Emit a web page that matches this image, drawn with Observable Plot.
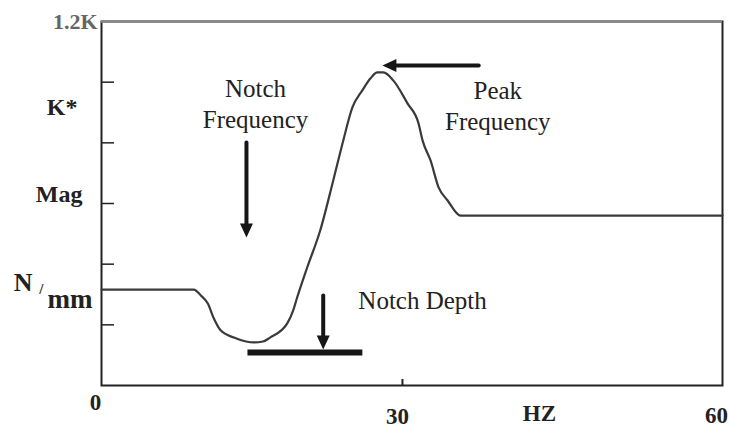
<!DOCTYPE html>
<html><head><meta charset="utf-8">
<script src="https://cdn.jsdelivr.net/npm/d3@7"></script>
<script src="https://cdn.jsdelivr.net/npm/@observablehq/plot@0.6"></script>
<style>body{margin:0;background:#fff} svg{display:block}</style>
</head><body><div id="chart"></div>
<script>
// Curve: dynamic stiffness magnitude vs frequency
const freqHz = [0, 9.2, 9.9, 10.6, 11.2, 11.9, 13.2, 14.4, 15.2, 16.1, 16.8, 18.5, 19.1, 19.5, 20.5, 21.8, 23.1, 24.1, 25.0, 26.0, 26.8, 27.5, 28.1, 29.1, 30.5, 31.6, 32.0, 32.8, 33.6, 34.5, 35.8, 61.9];
const magnitude = [316, 316, 297, 270, 221, 181, 158, 145, 142, 145, 158, 204, 247, 290, 389, 511, 676, 808, 916, 973, 1012, 1032, 1032, 1005, 930, 864, 808, 742, 653, 610, 560, 560];

// Axis ticks and labels
const yTicks = [200, 400, 600, 800, 1000];
const xTicks = [30];
const xLabelText = ["0", "30", "HZ", "60"];
const xLabelAt = [0, 30, 43.65, 60];
const yLabelText = ["1.2K", "K*", "Mag", "N", "/", "mm"];
const yLabelAt = [1200, 916, 630, 340, 316, 284];

// Annotations
const annoText = ["Notch\nFrequency", "Peak\nFrequency", "Notch Depth"];
const annoX = [15.35, 39.5, 25.6];
const annoY = [933, 926, 280];
// arrows: [x1, y1, x2(tip), y2(tip)]
const arrowX1 = [14.45, 37.6, 22.1];
const arrowY1 = [801, 1055, 297];
const arrowX2 = [14.45, 28.0, 22.1];
const arrowY2 = [488, 1055, 119];
const arrowDir = ["down", "left", "down"];
// notch depth bar
const barX = [14.55, 26.0];
const barY = 109;

const curve = freqHz.map((f, i) => ({f, m: magnitude[i]}));
const arrows = arrowX1.map((x1, i) => ({x1, y1: arrowY1[i], x2: arrowX2[i], y2: arrowY2[i], dir: arrowDir[i]}));
const annos = annoText.map((t, i) => ({t, x: annoX[i], y: annoY[i]}));

const triDown = {draw(ctx) { ctx.moveTo(0, 0); ctx.lineTo(-6.5, -14); ctx.lineTo(6.5, -14); ctx.closePath(); }};
const triLeft = {draw(ctx) { ctx.moveTo(0, 0); ctx.lineTo(14, -6.5); ctx.lineTo(14, 6.5); ctx.closePath(); }};

const serif = "'Liberation Serif', 'Times New Roman', serif";
const W = 729, H = 429;
const mL = 101, mR = 7, mT = 21, mB = 44;

const xl = xLabelText.map((t, i) => ({t, x: xLabelAt[i]}));
const xlDx = [-6, -5, 0, 13];
const xlDy = [17, 31, 28, 30];
const yl = yLabelText.map((t, i) => ({t, y: yLabelAt[i]}));
const ylDx = [-4, -24, -19, -69, -58, -9];
const ylSize = [22, 24, 24, 26, 15, 27];
const ylFill = ["#666", "#222", "#222", "#222", "#222", "#222"];

const plot = Plot.plot({
  width: W, height: H,
  marginLeft: mL, marginRight: mR, marginTop: mT, marginBottom: mB,
  x: {domain: [0, 61.9], axis: null},
  y: {domain: [0, 1200], axis: null},
  style: {fontFamily: serif, background: "#fff"},
  marks: [
    // inward tick marks
    Plot.ruleY(yTicks, {stroke: "#222", strokeWidth: 1.5, insetRight: W - mL - mR - 13}),
    Plot.ruleX(xTicks, {stroke: "#222", strokeWidth: 2, insetTop: H - mT - mB - 6}),
    // frame
    Plot.frame({stroke: "#222", strokeWidth: 2}),
    Plot.ruleY([1200], {stroke: "#888", strokeWidth: 2.5}),
    // curve
    Plot.line(curve, {x: "f", y: "m", stroke: "#3a3a3a", strokeWidth: 2.2, curve: "monotone-x"}),
    // notch depth bar
    Plot.link([{x1: barX[0], x2: barX[1], y: barY}], {x1: "x1", x2: "x2", y1: "y", y2: "y", stroke: "#161616", strokeWidth: 6}),
    // arrow shafts
    Plot.arrow(arrows, {x1: "x1", y1: "y1", x2: "x2", y2: "y2", stroke: "#161616", strokeWidth: 4, headLength: 0, insetEnd: 10}),
    // arrow heads
    Plot.dot(arrows.filter(d => d.dir === "down"), {x: "x2", y: "y2", symbol: triDown, r: 5, fill: "#161616", stroke: null}),
    Plot.dot(arrows.filter(d => d.dir === "left"), {x: "x2", y: "y2", symbol: triLeft, r: 5, fill: "#161616", stroke: null}),
    // annotation text
    Plot.text(annos.slice(0, 2), {x: "x", y: "y", text: "t", fontFamily: serif, fontSize: 25, lineHeight: 1.25, fill: "#222", textAnchor: "middle", lineAnchor: "middle"}),
    Plot.text(annos.slice(2), {x: "x", y: "y", text: "t", fontFamily: serif, fontSize: 25, fill: "#222", textAnchor: "start", lineAnchor: "middle"}),
    // x labels
    ...xl.map((d, i) => Plot.text([d], {x: "x", y: () => 0, text: "t", fontFamily: serif, fontSize: 23, fontWeight: "bold", fill: "#222", dx: xlDx[i], dy: xlDy[i], lineAnchor: "middle"})),
    // y labels
    ...yl.map((d, i) => Plot.text([d], {x: () => 0, y: "y", text: "t", fontFamily: serif, fontSize: ylSize[i], fontWeight: "bold", fill: ylFill[i], dx: ylDx[i], textAnchor: "end", lineAnchor: "middle"}))
  ]
});
document.getElementById("chart").appendChild(plot);
</script>
</body></html>
